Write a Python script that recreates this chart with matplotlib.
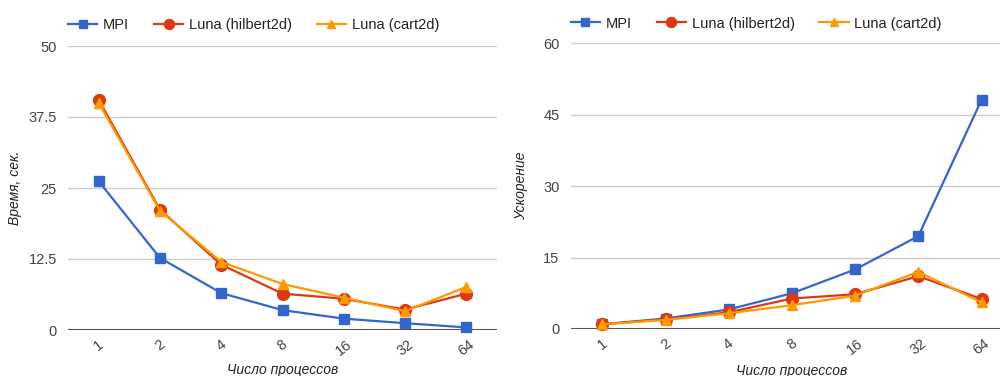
import matplotlib
matplotlib.use("Agg")
import matplotlib.pyplot as plt

plt.rcParams['font.family'] = ['Liberation Sans', 'DejaVu Sans']

categories = ["1", "2", "4", "8", "16", "32", "64"]
series_names = ["MPI", "Luna (hilbert2d)", "Luna (cart2d)"]

time_mpi = [26.2, 12.7, 6.5, 3.5, 2.0, 1.2, 0.45]
time_hilbert = [40.5, 21.2, 11.5, 6.4, 5.5, 3.6, 6.4]
time_cart = [40.0, 21.0, 12.0, 8.1, 5.7, 3.3, 7.6]

speed_mpi = [1.0, 2.2, 4.1, 7.5, 12.5, 19.5, 48.1]
speed_hilbert = [1.0, 2.0, 3.5, 6.4, 7.3, 11.1, 6.3]
speed_cart = [1.0, 1.9, 3.3, 5.0, 7.0, 12.0, 5.6]

left_ticks = [0, 12.5, 25, 37.5, 50]
left_ticklabels = ["0", "12.5", "25", "37.5", "50"]
right_ticks = [0, 15, 30, 45, 60]
right_ticklabels = ["0", "15", "30", "45", "60"]

colors = ["#3366cc", "#dc3912", "#ff9900"]
markers = ["s", "o", "^"]
msizes = [6.5, 8.5, 7]

fig = plt.figure(figsize=(10, 3.76), dpi=100)
axL = fig.add_axes([0.068, 1 - 330/376, 0.429, 284/376])
axR = fig.add_axes([0.5707, 1 - 329/376, 0.4424, 285.7/376])

def style(ax, series, ticks, ticklabels, ylabel, ylab_x, xlab_y, leg_y):
    x = list(range(len(categories)))
    for vals, name, c, m, ms in zip(series, series_names, colors, markers, msizes):
        ax.plot(x, vals, color=c, marker=m, markersize=ms, linewidth=1.6,
                label=name, markeredgecolor=c, clip_on=False, zorder=3)
    ax.set_xlim(-0.5, len(categories) - 0.5)
    ax.set_ylim(ticks[0], ticks[-1])
    ax.set_yticks(ticks)
    ax.set_yticklabels(ticklabels)
    ax.set_xticks(x)
    ax.set_xticklabels(categories, rotation=38, ha='center', va='top')
    for s in ax.spines.values():
        s.set_visible(False)
    ax.tick_params(length=0, labelsize=10.5, colors='#444444', pad=8)
    ax.tick_params(axis='x', pad=5)
    ax.grid(axis='y', color='#cccccc', linewidth=1)
    ax.set_axisbelow(True)
    ax.axhline(0, color='#555555', linewidth=1.5, zorder=2)
    ax.set_ylabel(ylabel, fontsize=10, style='italic', color='#222222', va='center')
    ax.yaxis.set_label_coords(ylab_x, 0.5)
    ax.set_xlabel("Число процессов", fontsize=10, style='italic', color='#222222', va='center')
    ax.xaxis.set_label_coords(0.5, xlab_y)
    ax.legend(loc='center left', bbox_to_anchor=(0.0, leg_y), ncol=3, frameon=False,
              borderpad=0, borderaxespad=0, handlelength=2.0, handletextpad=0.4,
              columnspacing=1.7, fontsize=10.5, labelcolor='#222222', markerscale=0.85)

style(axL, [time_mpi, time_hilbert, time_cart], left_ticks, left_ticklabels,
      "Время, сек.", -0.1235, -0.141, 1.074)
style(axR, [speed_mpi, speed_hilbert, speed_cart], right_ticks, right_ticklabels,
      "Ускорение", -0.112, -0.147, 1.069)

fig.savefig("out.png", dpi=100)
